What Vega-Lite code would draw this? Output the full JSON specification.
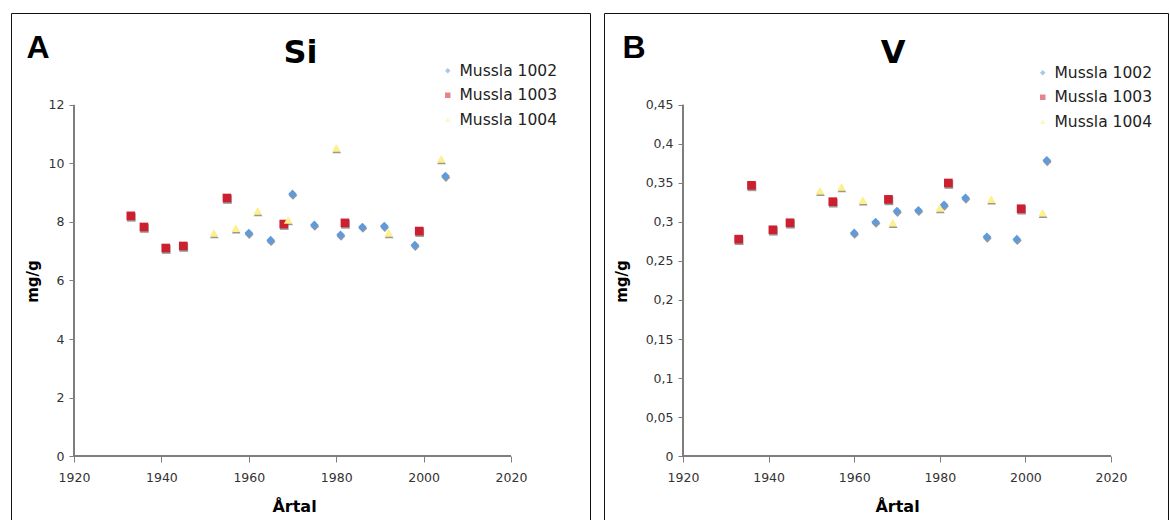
{
  "$schema": "https://vega.github.io/schema/vega-lite/v6.json",
  "background": "white",
  "padding": {"left": 10, "top": 12, "right": 0, "bottom": 0},
  "spacing": 12,
  "config": {
    "view": {"stroke": "#111", "strokeWidth": 1},
    "font": "DejaVu Sans"
  },
  "datasets": {
    "si": [
      {"series": "Mussla 1002", "year": 1960, "value": 7.62},
      {"series": "Mussla 1002", "year": 1965, "value": 7.38},
      {"series": "Mussla 1002", "year": 1970, "value": 8.96},
      {"series": "Mussla 1002", "year": 1975, "value": 7.90},
      {"series": "Mussla 1002", "year": 1981, "value": 7.56},
      {"series": "Mussla 1002", "year": 1986, "value": 7.83},
      {"series": "Mussla 1002", "year": 1991, "value": 7.86},
      {"series": "Mussla 1002", "year": 1998, "value": 7.21},
      {"series": "Mussla 1002", "year": 2005, "value": 9.57},
      {"series": "Mussla 1003", "year": 1933, "value": 8.21},
      {"series": "Mussla 1003", "year": 1936, "value": 7.83},
      {"series": "Mussla 1003", "year": 1941, "value": 7.11},
      {"series": "Mussla 1003", "year": 1945, "value": 7.18},
      {"series": "Mussla 1003", "year": 1955, "value": 8.82},
      {"series": "Mussla 1003", "year": 1968, "value": 7.93},
      {"series": "Mussla 1003", "year": 1982, "value": 7.97},
      {"series": "Mussla 1003", "year": 1999, "value": 7.69},
      {"series": "Mussla 1004", "year": 1952, "value": 7.62},
      {"series": "Mussla 1004", "year": 1957, "value": 7.79},
      {"series": "Mussla 1004", "year": 1962, "value": 8.38},
      {"series": "Mussla 1004", "year": 1969, "value": 8.07},
      {"series": "Mussla 1004", "year": 1980, "value": 10.53},
      {"series": "Mussla 1004", "year": 1992, "value": 7.62},
      {"series": "Mussla 1004", "year": 2004, "value": 10.15}
    ],
    "v": [
      {"series": "Mussla 1002", "year": 1960, "value": 0.286},
      {"series": "Mussla 1002", "year": 1965, "value": 0.300},
      {"series": "Mussla 1002", "year": 1970, "value": 0.314},
      {"series": "Mussla 1002", "year": 1975, "value": 0.315},
      {"series": "Mussla 1002", "year": 1981, "value": 0.322},
      {"series": "Mussla 1002", "year": 1986, "value": 0.331},
      {"series": "Mussla 1002", "year": 1991, "value": 0.281},
      {"series": "Mussla 1002", "year": 1998, "value": 0.278},
      {"series": "Mussla 1002", "year": 2005, "value": 0.379},
      {"series": "Mussla 1003", "year": 1933, "value": 0.278},
      {"series": "Mussla 1003", "year": 1936, "value": 0.347},
      {"series": "Mussla 1003", "year": 1941, "value": 0.290},
      {"series": "Mussla 1003", "year": 1945, "value": 0.299},
      {"series": "Mussla 1003", "year": 1955, "value": 0.326},
      {"series": "Mussla 1003", "year": 1968, "value": 0.329},
      {"series": "Mussla 1003", "year": 1982, "value": 0.350},
      {"series": "Mussla 1003", "year": 1999, "value": 0.317},
      {"series": "Mussla 1004", "year": 1952, "value": 0.340},
      {"series": "Mussla 1004", "year": 1957, "value": 0.345},
      {"series": "Mussla 1004", "year": 1962, "value": 0.328},
      {"series": "Mussla 1004", "year": 1969, "value": 0.299},
      {"series": "Mussla 1004", "year": 1980, "value": 0.318},
      {"series": "Mussla 1004", "year": 1992, "value": 0.329},
      {"series": "Mussla 1004", "year": 2004, "value": 0.312}
    ]
  },
  "resolve": {
    "scale": {"color": "independent", "shape": "independent", "x": "independent", "y": "independent"},
    "legend": {"color": "independent", "shape": "independent"}
  },
  "hconcat": [
    {
      "width": 579,
      "height": 508,
      "title": {"text": "Si", "anchor": "middle", "offset": -82, "baseline": "alphabetic", "font": "DejaVu Sans", "fontSize": 32, "fontWeight": "bold", "color": "#000"},
      "data": {"name": "si"},
      "resolve": {"axis": {"x": "independent", "y": "independent"}},
      "layer": [
        {
          "mark": {"type": "rule", "color": "#7f7f7f", "strokeWidth": 1},
          "encoding": {
            "x": {"datum": 1920, "type": "quantitative", "scale": {"domain": [1905.58, 2038.08], "nice": false, "zero": false},
              "axis": {"orient": "top", "domain": false, "ticks": false, "labels": false, "grid": false, "title": "A", "titleX": 15, "titleY": 44, "titleAlign": "left", "titleBaseline": "alphabetic", "titleAngle": 0, "titleFont": "Liberation Sans", "titleFontSize": 32, "titleFontWeight": "bold", "titleColor": "#000"}},
            "y": {"datum": 0, "type": "quantitative", "scale": {"domain": [-2.222, 15.145], "nice": false, "zero": false}, "axis": null},
            "y2": {"datum": 12}
          }
        },
        {
          "mark": {"type": "rule", "color": "#7f7f7f", "strokeWidth": 1},
          "encoding": {
            "x": {"datum": 1920, "type": "quantitative", "scale": {"domain": [1905.58, 2038.08], "nice": false, "zero": false}, "axis": null},
            "x2": {"datum": 2020},
            "y": {"datum": 0, "type": "quantitative", "scale": {"domain": [-2.222, 15.145], "nice": false, "zero": false}, "axis": null}
          }
        },
        {
          "mark": {"type": "point", "filled": true, "size": 75, "color": "#444", "opacity": 0.55, "yOffset": 1.5, "xOffset": 0.5},
          "encoding": {
            "x": {"field": "year", "type": "quantitative", "scale": {"domain": [1905.58, 2038.08], "nice": false, "zero": false}, "axis": null},
            "y": {"field": "value", "type": "quantitative", "scale": {"domain": [-2.222, 15.145], "nice": false, "zero": false}, "axis": null},
            "shape": {"field": "series", "type": "nominal", "scale": {"domain": ["Mussla 1002", "Mussla 1003", "Mussla 1004"], "range": ["diamond", "square", "triangle-up"]},
              "legend": {"orient": "none", "legendX": 429, "legendY": 50, "title": null, "labelFont": "DejaVu Sans", "labelFontSize": 15.5, "labelColor": "#222", "symbolSize": 30, "rowPadding": 7.5, "labelOffset": 4, "padding": 0, "symbolStrokeWidth": 0}}
          }
        },
        {
          "mark": {"type": "point", "filled": true, "size": 75, "opacity": 1},
          "encoding": {
            "x": {"field": "year", "type": "quantitative", "scale": {"domain": [1905.58, 2038.08], "nice": false, "zero": false},
              "axis": {"orient": "bottom", "values": [1920, 1940, 1960, 1980, 2000, 2020], "format": "d", "offset": -65, "domain": false, "grid": false, "tickSize": 6, "tickColor": "#7f7f7f", "labelFont": "DejaVu Sans", "labelFontSize": 12.5, "labelColor": "#333", "labelPadding": 9, "title": "Årtal", "titleX": 283, "titleY": 55, "titleAlign": "center", "titleBaseline": "alphabetic", "titleFont": "DejaVu Sans", "titleFontSize": 16, "titleFontWeight": "bold", "titleColor": "#000"}},
            "y": {"field": "value", "type": "quantitative", "scale": {"domain": [-2.222, 15.145], "nice": false, "zero": false},
              "axis": {"orient": "left", "values": [0, 2, 4, 6, 8, 10, 12], "offset": -63, "domain": false, "grid": false, "tickSize": 5, "tickColor": "#7f7f7f", "labelFont": "DejaVu Sans", "labelFontSize": 12.5, "labelColor": "#333", "labelPadding": 5, "title": "mg/g", "titleX": -42, "titleY": 268, "titleAngle": -90, "titleAlign": "center", "titleBaseline": "middle", "titleFont": "DejaVu Sans", "titleFontSize": 15, "titleFontWeight": "bold", "titleColor": "#000"}},
            "color": {"field": "series", "type": "nominal", "scale": {"domain": ["Mussla 1002", "Mussla 1003", "Mussla 1004"], "range": ["#5f9bdc", "#cc2030", "#fff08a"]},
              "legend": {"orient": "none", "legendX": 429, "legendY": 50, "title": null, "labelFont": "DejaVu Sans", "labelFontSize": 15.5, "labelColor": "#222", "symbolSize": 30, "rowPadding": 7.5, "labelOffset": 4, "padding": 0, "symbolStrokeWidth": 0}},
            "shape": {"field": "series", "type": "nominal", "scale": {"domain": ["Mussla 1002", "Mussla 1003", "Mussla 1004"], "range": ["diamond", "square", "triangle-up"]},
              "legend": {"orient": "none", "legendX": 429, "legendY": 50, "title": null, "labelFont": "DejaVu Sans", "labelFontSize": 15.5, "labelColor": "#222", "symbolSize": 30, "rowPadding": 7.5, "labelOffset": 4, "padding": 0, "symbolStrokeWidth": 0}}
          }
        }
      ]
    },
    {
      "width": 564,
      "height": 508,
      "title": {"text": "V", "anchor": "middle", "offset": -82, "dx": 7, "baseline": "alphabetic", "font": "DejaVu Sans", "fontSize": 32, "fontWeight": "bold", "color": "#000"},
      "data": {"name": "v"},
      "resolve": {"axis": {"x": "independent", "y": "independent"}},
      "layer": [
        {
          "mark": {"type": "rule", "color": "#7f7f7f", "strokeWidth": 1},
          "encoding": {
            "x": {"datum": 1920, "type": "quantitative", "scale": {"domain": [1901.54, 2033.32], "nice": false, "zero": false},
              "axis": {"orient": "top", "domain": false, "ticks": false, "labels": false, "grid": false, "title": "B", "titleX": 18, "titleY": 44, "titleAlign": "left", "titleBaseline": "alphabetic", "titleAngle": 0, "titleFont": "Liberation Sans", "titleFontSize": 32, "titleFontWeight": "bold", "titleColor": "#000"}},
            "y": {"datum": 0, "type": "quantitative", "scale": {"domain": [-0.0833, 0.5679], "nice": false, "zero": false}, "axis": null},
            "y2": {"datum": 0.45}
          }
        },
        {
          "mark": {"type": "rule", "color": "#7f7f7f", "strokeWidth": 1},
          "encoding": {
            "x": {"datum": 1920, "type": "quantitative", "scale": {"domain": [1901.54, 2033.32], "nice": false, "zero": false}, "axis": null},
            "x2": {"datum": 2020},
            "y": {"datum": 0, "type": "quantitative", "scale": {"domain": [-0.0833, 0.5679], "nice": false, "zero": false}, "axis": null}
          }
        },
        {
          "mark": {"type": "point", "filled": true, "size": 75, "color": "#444", "opacity": 0.55, "yOffset": 1.5, "xOffset": 0.5},
          "encoding": {
            "x": {"field": "year", "type": "quantitative", "scale": {"domain": [1901.54, 2033.32], "nice": false, "zero": false}, "axis": null},
            "y": {"field": "value", "type": "quantitative", "scale": {"domain": [-0.0833, 0.5679], "nice": false, "zero": false}, "axis": null},
            "shape": {"field": "series", "type": "nominal", "scale": {"domain": ["Mussla 1002", "Mussla 1003", "Mussla 1004"], "range": ["diamond", "square", "triangle-up"]},
              "legend": {"orient": "none", "legendX": 431, "legendY": 52, "title": null, "labelFont": "DejaVu Sans", "labelFontSize": 15.5, "labelColor": "#222", "symbolSize": 30, "rowPadding": 7.5, "labelOffset": 4, "padding": 0, "symbolStrokeWidth": 0}}
          }
        },
        {
          "mark": {"type": "point", "filled": true, "size": 75, "opacity": 1},
          "encoding": {
            "x": {"field": "year", "type": "quantitative", "scale": {"domain": [1901.54, 2033.32], "nice": false, "zero": false},
              "axis": {"orient": "bottom", "values": [1920, 1940, 1960, 1980, 2000, 2020], "format": "d", "offset": -65, "domain": false, "grid": false, "tickSize": 6, "tickColor": "#7f7f7f", "labelFont": "DejaVu Sans", "labelFontSize": 12.5, "labelColor": "#333", "labelPadding": 9, "title": "Årtal", "titleX": 293, "titleY": 55, "titleAlign": "center", "titleBaseline": "alphabetic", "titleFont": "DejaVu Sans", "titleFontSize": 16, "titleFontWeight": "bold", "titleColor": "#000"}},
            "y": {"field": "value", "type": "quantitative", "scale": {"domain": [-0.0833, 0.5679], "nice": false, "zero": false},
              "axis": {"orient": "left", "values": [0, 0.05, 0.1, 0.15, 0.2, 0.25, 0.3, 0.35, 0.4, 0.45], "labelExpr": "replace(format(datum.value, '.2~f'), '.', ',')", "offset": -79, "domain": false, "grid": false, "tickSize": 5, "tickColor": "#7f7f7f", "labelFont": "DejaVu Sans", "labelFontSize": 12.5, "labelColor": "#333", "labelPadding": 5, "title": "mg/g", "titleX": -62, "titleY": 268, "titleAngle": -90, "titleAlign": "center", "titleBaseline": "middle", "titleFont": "DejaVu Sans", "titleFontSize": 15, "titleFontWeight": "bold", "titleColor": "#000"}},
            "color": {"field": "series", "type": "nominal", "scale": {"domain": ["Mussla 1002", "Mussla 1003", "Mussla 1004"], "range": ["#5f9bdc", "#cc2030", "#fff08a"]},
              "legend": {"orient": "none", "legendX": 431, "legendY": 52, "title": null, "labelFont": "DejaVu Sans", "labelFontSize": 15.5, "labelColor": "#222", "symbolSize": 30, "rowPadding": 7.5, "labelOffset": 4, "padding": 0, "symbolStrokeWidth": 0}},
            "shape": {"field": "series", "type": "nominal", "scale": {"domain": ["Mussla 1002", "Mussla 1003", "Mussla 1004"], "range": ["diamond", "square", "triangle-up"]},
              "legend": {"orient": "none", "legendX": 431, "legendY": 52, "title": null, "labelFont": "DejaVu Sans", "labelFontSize": 15.5, "labelColor": "#222", "symbolSize": 30, "rowPadding": 7.5, "labelOffset": 4, "padding": 0, "symbolStrokeWidth": 0}}
          }
        }
      ]
    }
  ]
}
